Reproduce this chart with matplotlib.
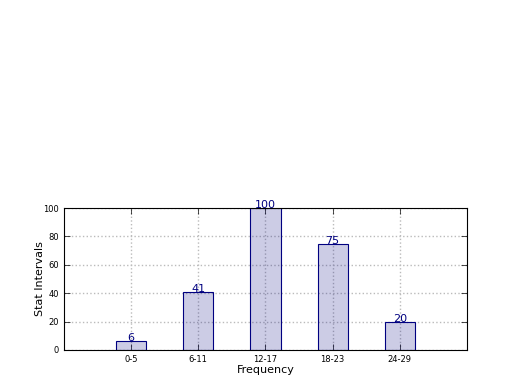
import matplotlib
matplotlib.use("Agg")
import matplotlib.pyplot as plt
from matplotlib.colors import to_rgba

categories = ["0-5", "6-11", "12-17", "18-23", "24-29"]
values = [6, 41, 100, 75, 20]

fig = plt.figure(figsize=(5.2, 3.9), dpi=100)
ax = fig.add_axes([0.123, 0.1026, 0.775, 0.364])

pos = list(range(1, len(categories) + 1))
ax.bar(pos, values, width=0.45, facecolor=to_rgba("navy", 0.2),
       edgecolor="navy", linewidth=0.8, zorder=2)
for p, v in zip(pos, values):
    ax.text(p, v, str(v), ha="center", va="baseline", color="navy", fontsize=8, zorder=3)

ax.set_xlim(0, 6)
ax.set_ylim(0, 100)
ax.set_xticks(pos)
ax.set_xticklabels(categories, fontsize=6)
ax.set_yticks([0, 20, 40, 60, 80, 100])
ax.tick_params(axis="y", labelsize=6)
ax.tick_params(direction="in", top=True, right=True, length=4, width=0.5)
ax.grid(True, linestyle=":", color="#bbbbbb", linewidth=1, zorder=0)
ax.set_axisbelow(True)
ax.set_xlabel("Frequency", fontsize=8, labelpad=1)
ax.set_ylabel("Stat Intervals", fontsize=8, labelpad=-1)
for s in ax.spines.values():
    s.set_linewidth(0.8)

fig.savefig("out.png", dpi=100)
